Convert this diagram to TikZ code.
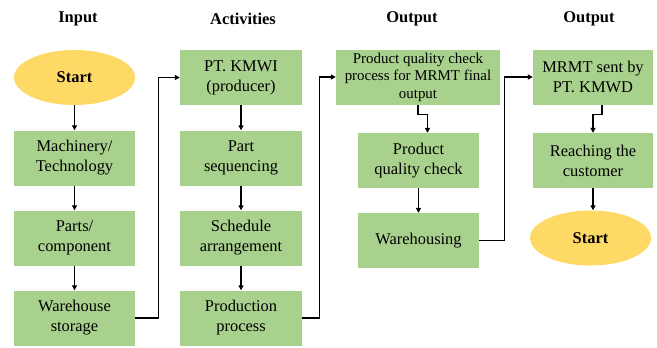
\documentclass[tikz,border=0pt]{standalone}
\usepackage{fontspec}
\setmainfont{Liberation Serif}
\usetikzlibrary{shapes.geometric,arrows.meta}
\definecolor{boxgreen}{HTML}{A9D18E}
\definecolor{startyellow}{HTML}{FFD966}
\begin{document}
\begin{tikzpicture}[x=1bp, y=-1bp,
                        box/.style={fill=boxgreen, minimum width=121bp, minimum height=55bp, inner sep=0pt, align=center, font=\fontsize{16.5}{20}\selectfont},
                        oval/.style={ellipse, fill=startyellow, minimum width=121bp, minimum height=55bp, inner sep=0pt, font=\fontsize{16.5}{20}\selectfont\bfseries},
                        title/.style={font=\fontsize{16.5}{20}\selectfont\bfseries},
                        arr/.style={-{Triangle[length=5pt,width=5pt]}, line width=1.4bp}]
                        \useasboundingbox (0,0) rectangle (657,347);

                        \node[title] (T1) at (78, 19) {Input};
                        \node[title] (T2) at (243, 19) {Activities};
                        \node[title] (T3) at (412, 19) {Output};
                        \node[title] (T4) at (589, 19) {Output};

                        \node[oval] (start) at (74.5, 77.5) {Start};
                        \node[box] (mach) at (74.5, 158) {Machinery/\\Technology};
                        \node[box] (parts) at (74.5, 238) {Parts/\\component};
                        \node[box] (store) at (74.5, 318) {Warehouse\\storage};

                        \node[box, minimum width=122bp] (kmwi) at (241, 77.5) {PT. KMWI\\(producer)};
                        \node[box, minimum width=122bp] (seq) at (241, 158) {Part\\sequencing};
                        \node[box, minimum width=122bp] (sched) at (241, 238) {Schedule\\arrangement};
                        \node[box, minimum width=122bp] (prod) at (241, 318) {Production\\process};

                        \node[box, minimum width=164bp, font=\fontsize{15}{17.5}\selectfont] (qcp) at (418, 77) {Product quality check\\process for MRMT final\\output};
                        \node[box] (qc) at (418.5, 160.5) {Product\\quality check};
                        \node[box] (wh) at (418.5, 240.5) {Warehousing};

                        \node[box, minimum width=120bp] (mrmt) at (593, 77) {MRMT sent by\\PT. KMWD};
                        \node[box, minimum width=120bp] (reach) at (593, 160.5) {Reaching the\\customer};
                        \node[oval] (finish) at (590.5, 238) {Start};

                        \draw[arr] (start) -- (mach);
                        \draw[arr] (mach) -- (parts);
                        \draw[arr] (parts) -- (store);
                        \draw[arr] (store.east) -- ++(23, 0) |- (kmwi.west);

                        \draw[arr] (kmwi) -- (seq);
                        \draw[arr] (seq) -- (sched);
                        \draw[arr] (sched) -- (prod);
                        \draw[arr] (prod.east) -- ++(17, 0) |- (qcp.west);

                        \draw[arr] (qcp.south) -- ++(0, 10) -| ([xshift=9bp]qc.north);
                        \draw[arr] (qc) -- (wh);
                        \draw[arr] (wh.east) -- ++(25, 0) |- (mrmt.west);

                        \draw[arr] ([xshift=9bp]mrmt.south) -- ++(0, 10) -| (reach.north);
                        \draw[arr] (reach.south) -- (reach.south |- finish.north);
                    \end{tikzpicture}
\end{document}
